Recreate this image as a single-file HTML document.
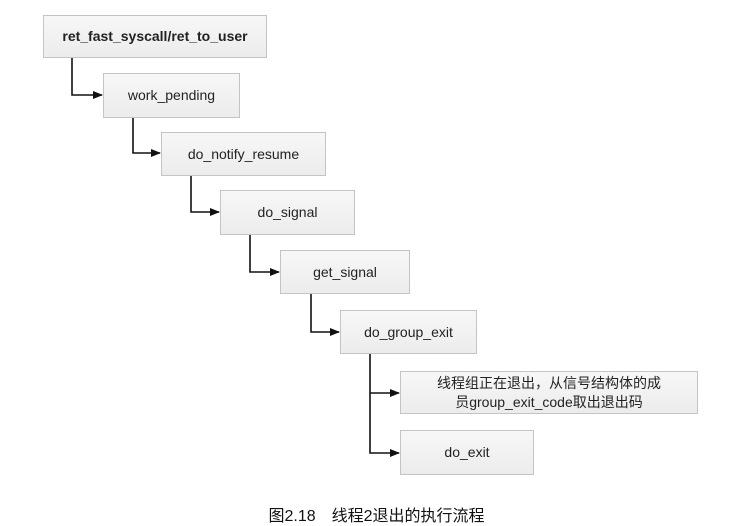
<!DOCTYPE html>
<html><head><meta charset="utf-8"><style>
body{margin:0;width:753px;height:525px;background:#fff;position:relative;overflow:hidden;font-family:"Liberation Sans","Noto Sans CJK SC",sans-serif;}
.b{position:absolute;box-sizing:border-box;border:1px solid #c4c4c4;background:linear-gradient(#f7f7f7,#ececec);display:flex;align-items:center;justify-content:center;text-align:center;font-size:14px;color:#222;line-height:19px;}
svg{position:absolute;left:0;top:0}
.cap{position:absolute;left:0;width:753px;top:502px;text-align:center;font-size:16px;color:#111;}
</style></head><body>
<svg width="753" height="525">
<defs><marker id="a" markerWidth="10" markerHeight="8" refX="9" refY="4" orient="auto" markerUnits="userSpaceOnUse"><path d="M0,0L10,4L0,8z" fill="#111"/></marker></defs>
<g stroke="#111" stroke-width="1.6" fill="none">
<path d="M72 58V95H102" marker-end="url(#a)"/>
<path d="M133 118V153H160" marker-end="url(#a)"/>
<path d="M191 176V212H219" marker-end="url(#a)"/>
<path d="M250 235V272H279" marker-end="url(#a)"/>
<path d="M311 294V332H339" marker-end="url(#a)"/>
<path d="M370 354V453H399" marker-end="url(#a)"/>
<path d="M370 393H399" marker-end="url(#a)"/>
</g></svg>
<div class="b" style="left:43px;top:15px;width:224px;height:43px;font-weight:bold">ret_fast_syscall/ret_to_user</div>
<div class="b" style="left:103px;top:73px;width:137px;height:45px">work_pending</div>
<div class="b" style="left:161px;top:132px;width:165px;height:44px">do_notify_resume</div>
<div class="b" style="left:220px;top:190px;width:135px;height:45px">do_signal</div>
<div class="b" style="left:280px;top:250px;width:130px;height:44px">get_signal</div>
<div class="b" style="left:340px;top:310px;width:137px;height:44px">do_group_exit</div>
<div class="b" style="left:400px;top:371px;width:298px;height:43px">线程组正在退出，从信号结构体的成<br>员group_exit_code取出退出码</div>
<div class="b" style="left:400px;top:430px;width:134px;height:45px">do_exit</div>
<div class="cap">图2.18　线程2退出的执行流程</div>
</body></html>
